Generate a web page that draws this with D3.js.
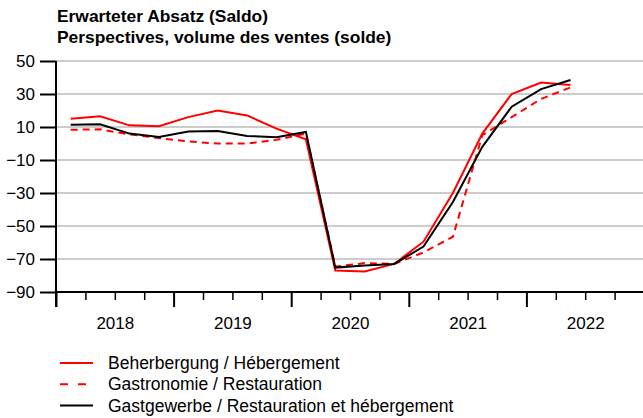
<!DOCTYPE html>
<html><head><meta charset="utf-8">
<script src="https://cdn.jsdelivr.net/npm/d3@7"></script>
<style>
body{margin:0;background:#fff;}
svg{display:block;font-family:"Liberation Sans",Arial,sans-serif;}
</style></head>
<body><svg id="c" width="643" height="418"></svg>
<script>
const titleLines = ["Erwarteter Absatz (Saldo)", "Perspectives, volume des ventes (solde)"];
const quarters = ["2018Q1","2018Q2","2018Q3","2018Q4","2019Q1","2019Q2","2019Q3","2019Q4",
  "2020Q1","2020Q2","2020Q3","2020Q4","2021Q1","2021Q2","2021Q3","2021Q4","2022Q1","2022Q2"];
const beherbergung = [15,16.5,11,10.5,16,20,17,9,2.5,-77,-77.5,-73,-59.5,-30,6,30,37,35.5];
const gastronomie = [8.3,8.6,5.5,3.3,1.2,0,0,2.2,6,-74.6,-72.5,-73,-66,-56.5,5,16,27,34];
const gastgewerbe = [11.3,11.6,6,4,7.2,7.6,4.6,3.8,7,-75.2,-74,-73,-62.5,-35.5,-2,22.3,33,38.5];
const yTicks = [50,30,10,-10,-30,-50,-70,-90];
const years = [2018,2019,2020,2021,2022];
const seriesNames = ["Beherbergung / Hébergement","Gastronomie / Restauration","Gastgewerbe / Restauration et hébergement"];

const series = [
  {name: seriesNames[0], values: beherbergung, color: "#ff0000", dash: null},
  {name: seriesNames[1], values: gastronomie, color: "#ff0000", dash: "7,5"},
  {name: seriesNames[2], values: gastgewerbe, color: "#000000", dash: null}
];

const svg = d3.select("#c");
const pLeft = 56, pRight = 644, pTop = 61, pBottom = 292;
const x = d3.scaleLinear().domain([2018, 2023]).range([pLeft, pRight]);
const y = d3.scaleLinear().domain([-90, 50]).range([pBottom, pTop]);
const qx = q => { const yr = +q.slice(0,4), n = +q.slice(5); return x(yr + (n - 0.5) / 4); };

// title
titleLines.forEach((t, i) => {
  svg.append("text").attr("transform", `translate(57,${22 + i * 21}) scale(1.055,1)`)
    .attr("font-size", 16.5).attr("font-weight", "bold").attr("fill", "#000").text(t);
});

// gridlines
svg.append("g").selectAll("line").data(yTicks.filter(d => d > -90)).join("line")
  .attr("x1", pLeft).attr("x2", 643).attr("y1", d => y(d)).attr("y2", d => y(d))
  .attr("stroke", "#cccccc").attr("stroke-width", 2);

// y axis
const yAxis = d3.axisLeft(y).tickValues(yTicks).tickSize(16).tickPadding(5)
  .tickFormat(d => d < 0 ? "\u2212" + Math.abs(d) : d);
const gy = svg.append("g").attr("transform", `translate(${pLeft},0)`).call(yAxis);
gy.select(".domain").remove();
gy.selectAll(".tick line").attr("stroke", "#000").attr("stroke-width", 2);
gy.selectAll(".tick text").attr("font-size", 17).attr("font-family", "Liberation Sans, Arial, sans-serif").attr("fill", "#000");
svg.append("line").attr("x1", pLeft).attr("x2", pLeft).attr("y1", pTop).attr("y2", pBottom + 15)
  .attr("stroke", "#000").attr("stroke-width", 2);

// x axis minor ticks
const minor = d3.range(2018, 2023.01, 0.25).filter(v => Math.abs(v - Math.round(v)) > 0.01);
const gxm = svg.append("g").attr("transform", `translate(0,${pBottom})`)
  .call(d3.axisBottom(x).tickValues(minor).tickSize(8).tickFormat(""));
gxm.select(".domain").remove();
gxm.selectAll(".tick line").attr("stroke", "#000").attr("stroke-width", 1.5);
// major ticks
const gxM = svg.append("g").attr("transform", `translate(0,${pBottom})`)
  .call(d3.axisBottom(x).tickValues(years.concat([2023])).tickSize(15).tickFormat(""));
gxM.select(".domain").remove();
gxM.selectAll(".tick line").attr("stroke", "#000").attr("stroke-width", 2);
// year labels
const gxL = svg.append("g").attr("transform", `translate(0,${pBottom})`)
  .call(d3.axisBottom(x).tickValues(years.map(v => v + 0.5)).tickSize(0).tickPadding(25)
  .tickFormat(d => String(Math.floor(d))));
gxL.select(".domain").remove();
gxL.selectAll(".tick text").attr("font-size", 17).attr("font-family", "Liberation Sans, Arial, sans-serif").attr("fill", "#000");
svg.append("line").attr("x1", pLeft).attr("x2", 643).attr("y1", pBottom).attr("y2", pBottom)
  .attr("stroke", "#000").attr("stroke-width", 2);

// lines
const line = d3.line().x((d, i) => qx(quarters[i])).y(d => y(d));
const order = [1, 0, 2];
order.forEach(k => {
  const s = series[k];
  svg.append("path").datum(s.values).attr("d", line)
    .attr("fill", "none").attr("stroke", s.color).attr("stroke-width", 2)
    .attr("stroke-linejoin", "miter")
    .attr("stroke-dasharray", s.dash);
});

// legend
const lg = svg.append("g");
series.forEach((s, i) => {
  const yy = 363 + i * 21.3;
  lg.append("line").attr("x1", 60).attr("x2", 93).attr("y1", yy).attr("y2", yy)
    .attr("stroke", s.color).attr("stroke-width", 2).attr("stroke-dasharray", s.dash ? "8,10" : null);
  lg.append("text").attr("x", 108).attr("y", yy + 6).attr("font-size", 17.5).attr("fill", "#000").text(s.name);
});
</script></body></html>
